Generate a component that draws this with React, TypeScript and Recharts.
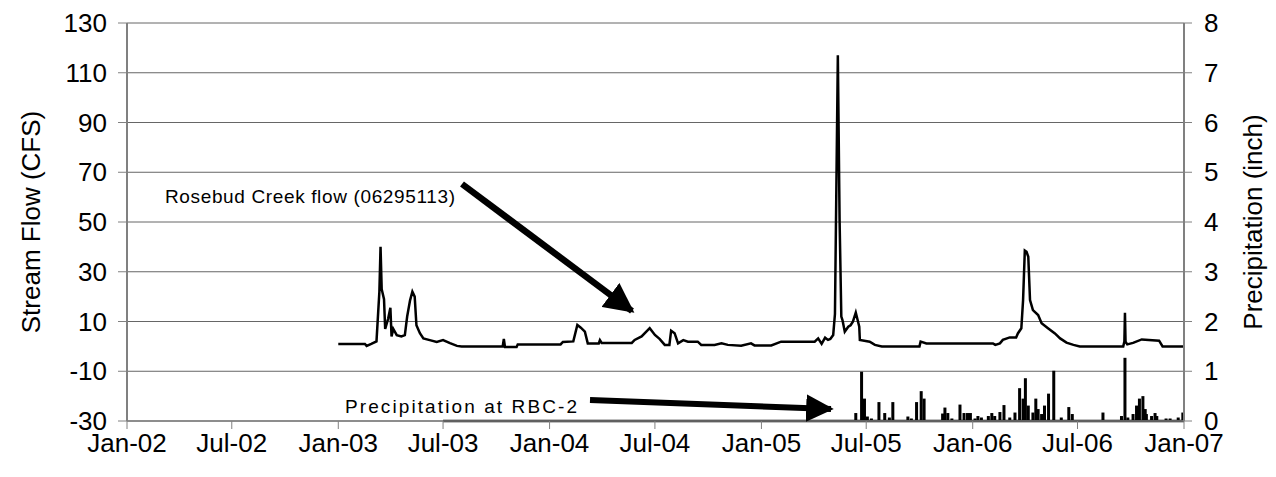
import React from "react";
import {
  ComposedChart,
  Line,
  Bar,
  XAxis,
  YAxis,
  CartesianGrid,
  ReferenceLine,
} from "recharts";

// Rosebud Creek daily flow (cfs), sampled at the turning points of the record
const flowDates = [
  "2003-01-01", "2003-02-16", "2003-02-19", "2003-02-27", "2003-03-08", "2003-03-13",
  "2003-03-15", "2003-03-17", "2003-03-21", "2003-03-23", "2003-03-28", "2003-04-01",
  "2003-04-03", "2003-04-06", "2003-04-12", "2003-04-20", "2003-04-26", "2003-04-30",
  "2003-05-05", "2003-05-09", "2003-05-13", "2003-05-16", "2003-05-22", "2003-05-28",
  "2003-06-08", "2003-06-20", "2003-07-01", "2003-07-13", "2003-07-25", "2003-08-02",
  "2003-10-12", "2003-10-14", "2003-10-16", "2003-11-05", "2003-11-07", "2004-01-20",
  "2004-01-24", "2004-02-11", "2004-02-18", "2004-02-24", "2004-03-02", "2004-03-07",
  "2004-03-26", "2004-03-28", "2004-03-31", "2004-05-22", "2004-05-27", "2004-06-08",
  "2004-06-22", "2004-07-01", "2004-07-09", "2004-07-18", "2004-07-26", "2004-07-29",
  "2004-08-04", "2004-08-10", "2004-08-19", "2004-08-27", "2004-09-13", "2004-09-19",
  "2004-10-12", "2004-10-24", "2004-11-04", "2004-11-27", "2004-12-14", "2004-12-20",
  "2005-01-18", "2005-02-04", "2005-04-03", "2005-04-09", "2005-04-15", "2005-04-21",
  "2005-04-26", "2005-04-30", "2005-05-05", "2005-05-08", "2005-05-13", "2005-05-16",
  "2005-05-19", "2005-05-21", "2005-05-25", "2005-05-31", "2005-06-04", "2005-06-08",
  "2005-06-13", "2005-06-19", "2005-06-20", "2005-07-07", "2005-07-16", "2005-07-28",
  "2005-10-01", "2005-10-03", "2005-10-13", "2006-02-05", "2006-02-09", "2006-02-17",
  "2006-02-22", "2006-03-06", "2006-03-17", "2006-03-20", "2006-03-26", "2006-03-29",
  "2006-04-01", "2006-04-04", "2006-04-07", "2006-04-10", "2006-04-15", "2006-04-24",
  "2006-04-30", "2006-05-11", "2006-05-23", "2006-06-01", "2006-06-12", "2006-06-24",
  "2006-07-05", "2006-09-18", "2006-09-20", "2006-09-21", "2006-09-22", "2006-09-25",
  "2006-10-05", "2006-10-20", "2006-11-19", "2006-11-25", "2007-01-01",
];
const flowCfs = [
  1.0, 1.0, 0.2, 1.0, 2, 22,
  40, 23, 19, 7, 11, 15.5,
  4, 7, 4.5, 4, 4.5, 12,
  18.5, 22, 20, 8.5, 5.3, 3.2,
  2.5, 1.8, 2.5, 1.3, 0.2, 0,
  0, 3, -0.3, -0.3, 0.8, 0.8,
  1.8, 2, 8.6, 7.5, 5.9, 1.2,
  1.2, 2.5, 1.4, 1.4, 2.6, 4,
  7.3, 4.6, 3, 0.6, 0.6, 6.3,
  5.3, 1.2, 2.5, 1.9, 1.9, 0.6,
  0.6, 1.2, 0.6, 0.3, 1.2, 0.4,
  0.4, 1.9, 1.9, 3.2, 1.0, 3.5,
  2.6, 3, 4.6, 13, 117, 51,
  12, 10.6, 5.9, 7.9, 8.5, 9.9,
  13.6, 7.9, 2.6, 1.9, 0.6, 0,
  0, 1.9, 1.2, 1.2, 0.6, 1.2,
  2.6, 3.6, 3.6, 5.2, 7.3, 18.6,
  38.5, 38, 36, 18.6, 14.6, 12.6,
  9.3, 7.3, 5.2, 3.2, 1.5, 0.6,
  0, 0, 1.9, 13.5, 1.9, 0.8,
  1.4, 2.8, 2.3, 0, 0,
];

// Daily precipitation at gauge RBC-2 (inch), rain days only
const precipDates = [
  "2005-06-13", "2005-06-23", "2005-06-28", "2005-07-03", "2005-07-10", "2005-07-23",
  "2005-08-02", "2005-08-10", "2005-08-16", "2005-09-11", "2005-09-17", "2005-09-26",
  "2005-10-04", "2005-10-09", "2005-11-10", "2005-11-14", "2005-11-19", "2005-11-26",
  "2005-12-10", "2005-12-17", "2005-12-23", "2005-12-28", "2006-01-05", "2006-01-10",
  "2006-01-16", "2006-01-28", "2006-02-03", "2006-02-08", "2006-02-17", "2006-02-24",
  "2006-03-06", "2006-03-15", "2006-03-23", "2006-03-29", "2006-04-02", "2006-04-07",
  "2006-04-15", "2006-04-20", "2006-04-24", "2006-04-30", "2006-05-05", "2006-05-12",
  "2006-05-21", "2006-06-03", "2006-06-16", "2006-06-22", "2006-08-14", "2006-09-15",
  "2006-09-21", "2006-09-26", "2006-10-05", "2006-10-11", "2006-10-16", "2006-10-22",
  "2006-10-26", "2006-10-28", "2006-11-06", "2006-11-12", "2006-11-15", "2006-12-01",
  "2006-12-08", "2006-12-22", "2006-12-30",
];
const precipInch = [
  0.16, 0.99, 0.45, 0.09, 0.05, 0.38,
  0.16, 0.07, 0.38, 0.09, 0.05, 0.38,
  0.6, 0.45, 0.15, 0.27, 0.16, 0.05,
  0.33, 0.16, 0.16, 0.16, 0.05, 0.1,
  0.07, 0.1, 0.16, 0.1, 0.18, 0.32,
  0.07, 0.17, 0.66, 0.45, 0.86, 0.31,
  0.17, 0.45, 0.24, 0.14, 0.31, 0.55,
  1.01, 0.07, 0.28, 0.14, 0.17, 0.1,
  1.27, 0.07, 0.14, 0.31, 0.45, 0.5,
  0.24, 0.14, 0.1, 0.16, 0.1, 0.05,
  0.05, 0.07, 0.17,
];

// Start of the precipitation record (drawn as a zero line)
const precipRecordStart = "2003-07-01";

const xTickDates = [
  "2002-01-01", "2002-07-01", "2003-01-01", "2003-07-01", "2004-01-01", "2004-07-01",
  "2005-01-01", "2005-07-01", "2006-01-01", "2006-07-01", "2007-01-01",
];
const monthNames = ["Jan", "Feb", "Mar", "Apr", "May", "Jun", "Jul", "Aug", "Sep", "Oct", "Nov", "Dec"];
const flowTicks = [-30, -10, 10, 30, 50, 70, 90, 110, 130];
const precipTicks = [0, 1, 2, 3, 4, 5, 6, 7, 8];

const toTime = (s: string) => Date.parse(s + "T00:00:00Z");

type Row = { t: number; f?: number; p?: number };

function buildRows(): Row[] {
  const map = new Map<number, Row>();
  flowDates.forEach((d, i) => {
    const t = toTime(d);
    map.set(t, { ...(map.get(t) || { t }), f: flowCfs[i] });
  });
  precipDates.forEach((d, i) => {
    const t = toTime(d);
    map.set(t, { ...(map.get(t) || { t }), p: precipInch[i] });
  });
  return Array.from(map.values()).sort((a, b) => a.t - b.t);
}

const rows = buildRows();
const xTicks = xTickDates.map(toTime);

const formatDate = (t: number) => {
  const d = new Date(t);
  return `${monthNames[d.getUTCMonth()]}-${String(d.getUTCFullYear() % 100).padStart(2, "0")}`;
};

const FONT = "'Liberation Sans', Arial, Helvetica, sans-serif";
const W = 1276;
const H = 477;
const BAR_W = 3;

// Daily rain column: fixed width, centred on its date
function RainColumn(props: any) {
  const { x, y, width, height } = props;
  if (height == null || !isFinite(height) || height <= 0) return null;
  const cx = x + (width || 0) / 2;
  return <rect x={cx - BAR_W / 2} y={y} width={BAR_W} height={height} fill="#000" />;
}

function Annotations() {
  return (
    <svg
      width={W}
      height={H}
      style={{ position: "absolute", left: 0, top: 0, pointerEvents: "none" }}
    >
      <defs>
        <marker
          id="head"
          viewBox="0 0 10 10"
          refX="9"
          refY="5"
          markerWidth="4.6"
          markerHeight="4.6"
          orient="auto"
          markerUnits="strokeWidth"
        >
          <path d="M0,0 L10,5 L0,10 z" fill="#000" />
        </marker>
      </defs>
      <text
        transform="translate(40 222) rotate(-90)"
        textAnchor="middle"
        fontSize={26}
        fontFamily={FONT}
        fill="#000"
      >
        Stream Flow (CFS)
      </text>
      <text
        transform="translate(1253 222) rotate(-90)"
        textAnchor="middle"
        dominantBaseline="central"
        fontSize={26}
        fontFamily={FONT}
        fill="#000"
      >
        Precipitation (inch)
      </text>
      <text
        x={165}
        y={203}
        fontSize={19}
        fontFamily={FONT}
        fill="#000"
        textLength={290}
        lengthAdjust="spacing"
      >
        Rosebud Creek flow (06295113)
      </text>
      <line x1={462} y1={184} x2={632} y2={311} stroke="#000" strokeWidth={6.5} markerEnd="url(#head)" />
      <text
        x={345}
        y={413}
        fontSize={19}
        fontFamily={FONT}
        fill="#000"
        textLength={232}
        lengthAdjust="spacing"
      >
        Precipitation at RBC-2
      </text>
      <line x1={590} y1={400} x2={831} y2={409} stroke="#000" strokeWidth={6} markerEnd="url(#head)" />
    </svg>
  );
}

export default function App() {
  return (
    <div
      style={{
        position: "absolute",
        left: 0,
        top: 0,
        width: W,
        height: H,
        background: "#fff",
        fontFamily: FONT,
      }}
    >
      <ComposedChart
        width={W}
        height={H}
        data={rows}
        margin={{ top: 23, right: 0, bottom: 16, left: 0 }}
      >
        <CartesianGrid vertical={false} stroke="#666" strokeWidth={1} yAxisId="left" />
        <XAxis
          dataKey="t"
          type="number"
          scale="linear"
          domain={[xTicks[0], xTicks[xTicks.length - 1]]}
          ticks={xTicks}
          interval={0}
          tickFormatter={formatDate}
          height={40}
          tickSize={8}
          tickMargin={5}
          axisLine={{ stroke: "#808080", strokeWidth: 1.5 }}
          tickLine={{ stroke: "#808080" }}
          tick={{ fill: "#000", fontSize: 26, fontFamily: FONT }}
          allowDataOverflow
        />
        <YAxis
          yAxisId="left"
          domain={[-30, 130]}
          ticks={flowTicks}
          interval={0}
          width={127}
          tickSize={9}
          tickMargin={11}
          axisLine={{ stroke: "#808080", strokeWidth: 2 }}
          tickLine={{ stroke: "#808080" }}
          tick={{ fill: "#000", fontSize: 26, fontFamily: FONT }}
          allowDataOverflow
        />
        <YAxis
          yAxisId="right"
          orientation="right"
          domain={[0, 8]}
          ticks={precipTicks}
          interval={0}
          width={92}
          tickSize={8}
          tickMargin={12}
          axisLine={{ stroke: "#808080", strokeWidth: 2 }}
          tickLine={{ stroke: "#808080" }}
          tick={{ fill: "#000", fontSize: 26, fontFamily: FONT }}
          allowDataOverflow
        />
        <ReferenceLine
          yAxisId="right"
          segment={[
            { x: toTime(precipRecordStart), y: 0 },
            { x: xTicks[xTicks.length - 1], y: 0 },
          ]}
          stroke="#000"
          strokeWidth={2.5}
        />
        <Bar
          yAxisId="right"
          dataKey="p"
          fill="#000"
          shape={RainColumn}
          isAnimationActive={false}
        />
        <Line
          yAxisId="left"
          dataKey="f"
          type="linear"
          stroke="#000"
          strokeWidth={2.5}
          dot={false}
          connectNulls
          isAnimationActive={false}
        />
      </ComposedChart>
      <Annotations />
    </div>
  );
}
